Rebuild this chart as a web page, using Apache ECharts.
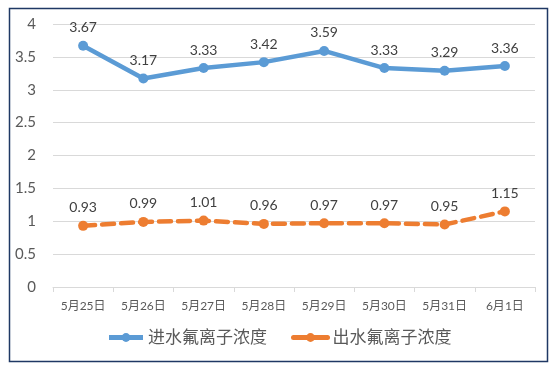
<!DOCTYPE html>
<html><head><meta charset="utf-8">
<script src="https://cdn.jsdelivr.net/npm/echarts@6/dist/echarts.min.js"></script>
<style>html,body{margin:0;padding:0;background:#fff}#c{width:558px;height:369px}</style>
</head><body><div id="c"></div>
<script>
const categories = ['5月25日','5月26日','5月27日','5月28日','5月29日','5月30日','5月31日','6月1日'];
const inflow = [3.67,3.17,3.33,3.42,3.59,3.33,3.29,3.36];
const outflow = [0.93,0.99,1.01,0.96,0.97,0.97,0.95,1.15];
const seriesNames = ['进水氟离子浓度','出水氟离子浓度'];
const FONT = "Lato, 'Noto Sans CJK SC', sans-serif";
const chart = echarts.init(document.getElementById('c'), null, {renderer:'canvas'});
chart.setOption({
  animation:false,
  textStyle:{fontFamily:FONT},
  graphic:[{type:'rect',shape:{x:9.5,y:8.5,width:538,height:353},style:{fill:'none',stroke:'#1F3864',lineWidth:1.5},z:-1}],
  grid:{left:53,right:23,top:24,bottom:82,containLabel:false},
  legend:{bottom:18,left:'center',itemWidth:34,itemHeight:11,itemGap:24,
    lineStyle:{width:5,type:'solid'},
    textStyle:{fontSize:17,color:'#595959',fontFamily:FONT},data:seriesNames},
  xAxis:{type:'category',data:categories,boundaryGap:true,
    axisLine:{lineStyle:{color:'#D9D9D9',width:1}},
    axisTick:{show:true,alignWithLabel:false,interval:0,length:5,lineStyle:{color:'#D9D9D9'}},
    axisLabel:{interval:0,hideOverlap:false,fontSize:12,color:'#595959',margin:13,fontFamily:FONT}},
  yAxis:{type:'value',min:0,max:4,interval:0.5,
    axisLine:{show:false},axisTick:{show:false},
    splitLine:{lineStyle:{color:'#D9D9D9',width:1}},
    axisLabel:{fontSize:15,color:'#595959',margin:17,fontFamily:FONT}},
  series:[
    {name:seriesNames[0],type:'line',data:inflow,symbol:'circle',symbolSize:10,
     lineStyle:{color:'#5B9BD5',width:4.5},itemStyle:{color:'#5B9BD5'},
     label:{show:true,position:'top',fontSize:14,color:'#404040',distance:6,fontFamily:FONT}},
    {name:seriesNames[1],type:'line',data:outflow,symbol:'circle',symbolSize:10,
     lineStyle:{color:'#ED7D31',width:4.5,type:[12,7],cap:'round'},itemStyle:{color:'#ED7D31'},
     label:{show:true,position:'top',fontSize:14,color:'#404040',distance:6,fontFamily:FONT}}
  ]
});
</script></body></html>
